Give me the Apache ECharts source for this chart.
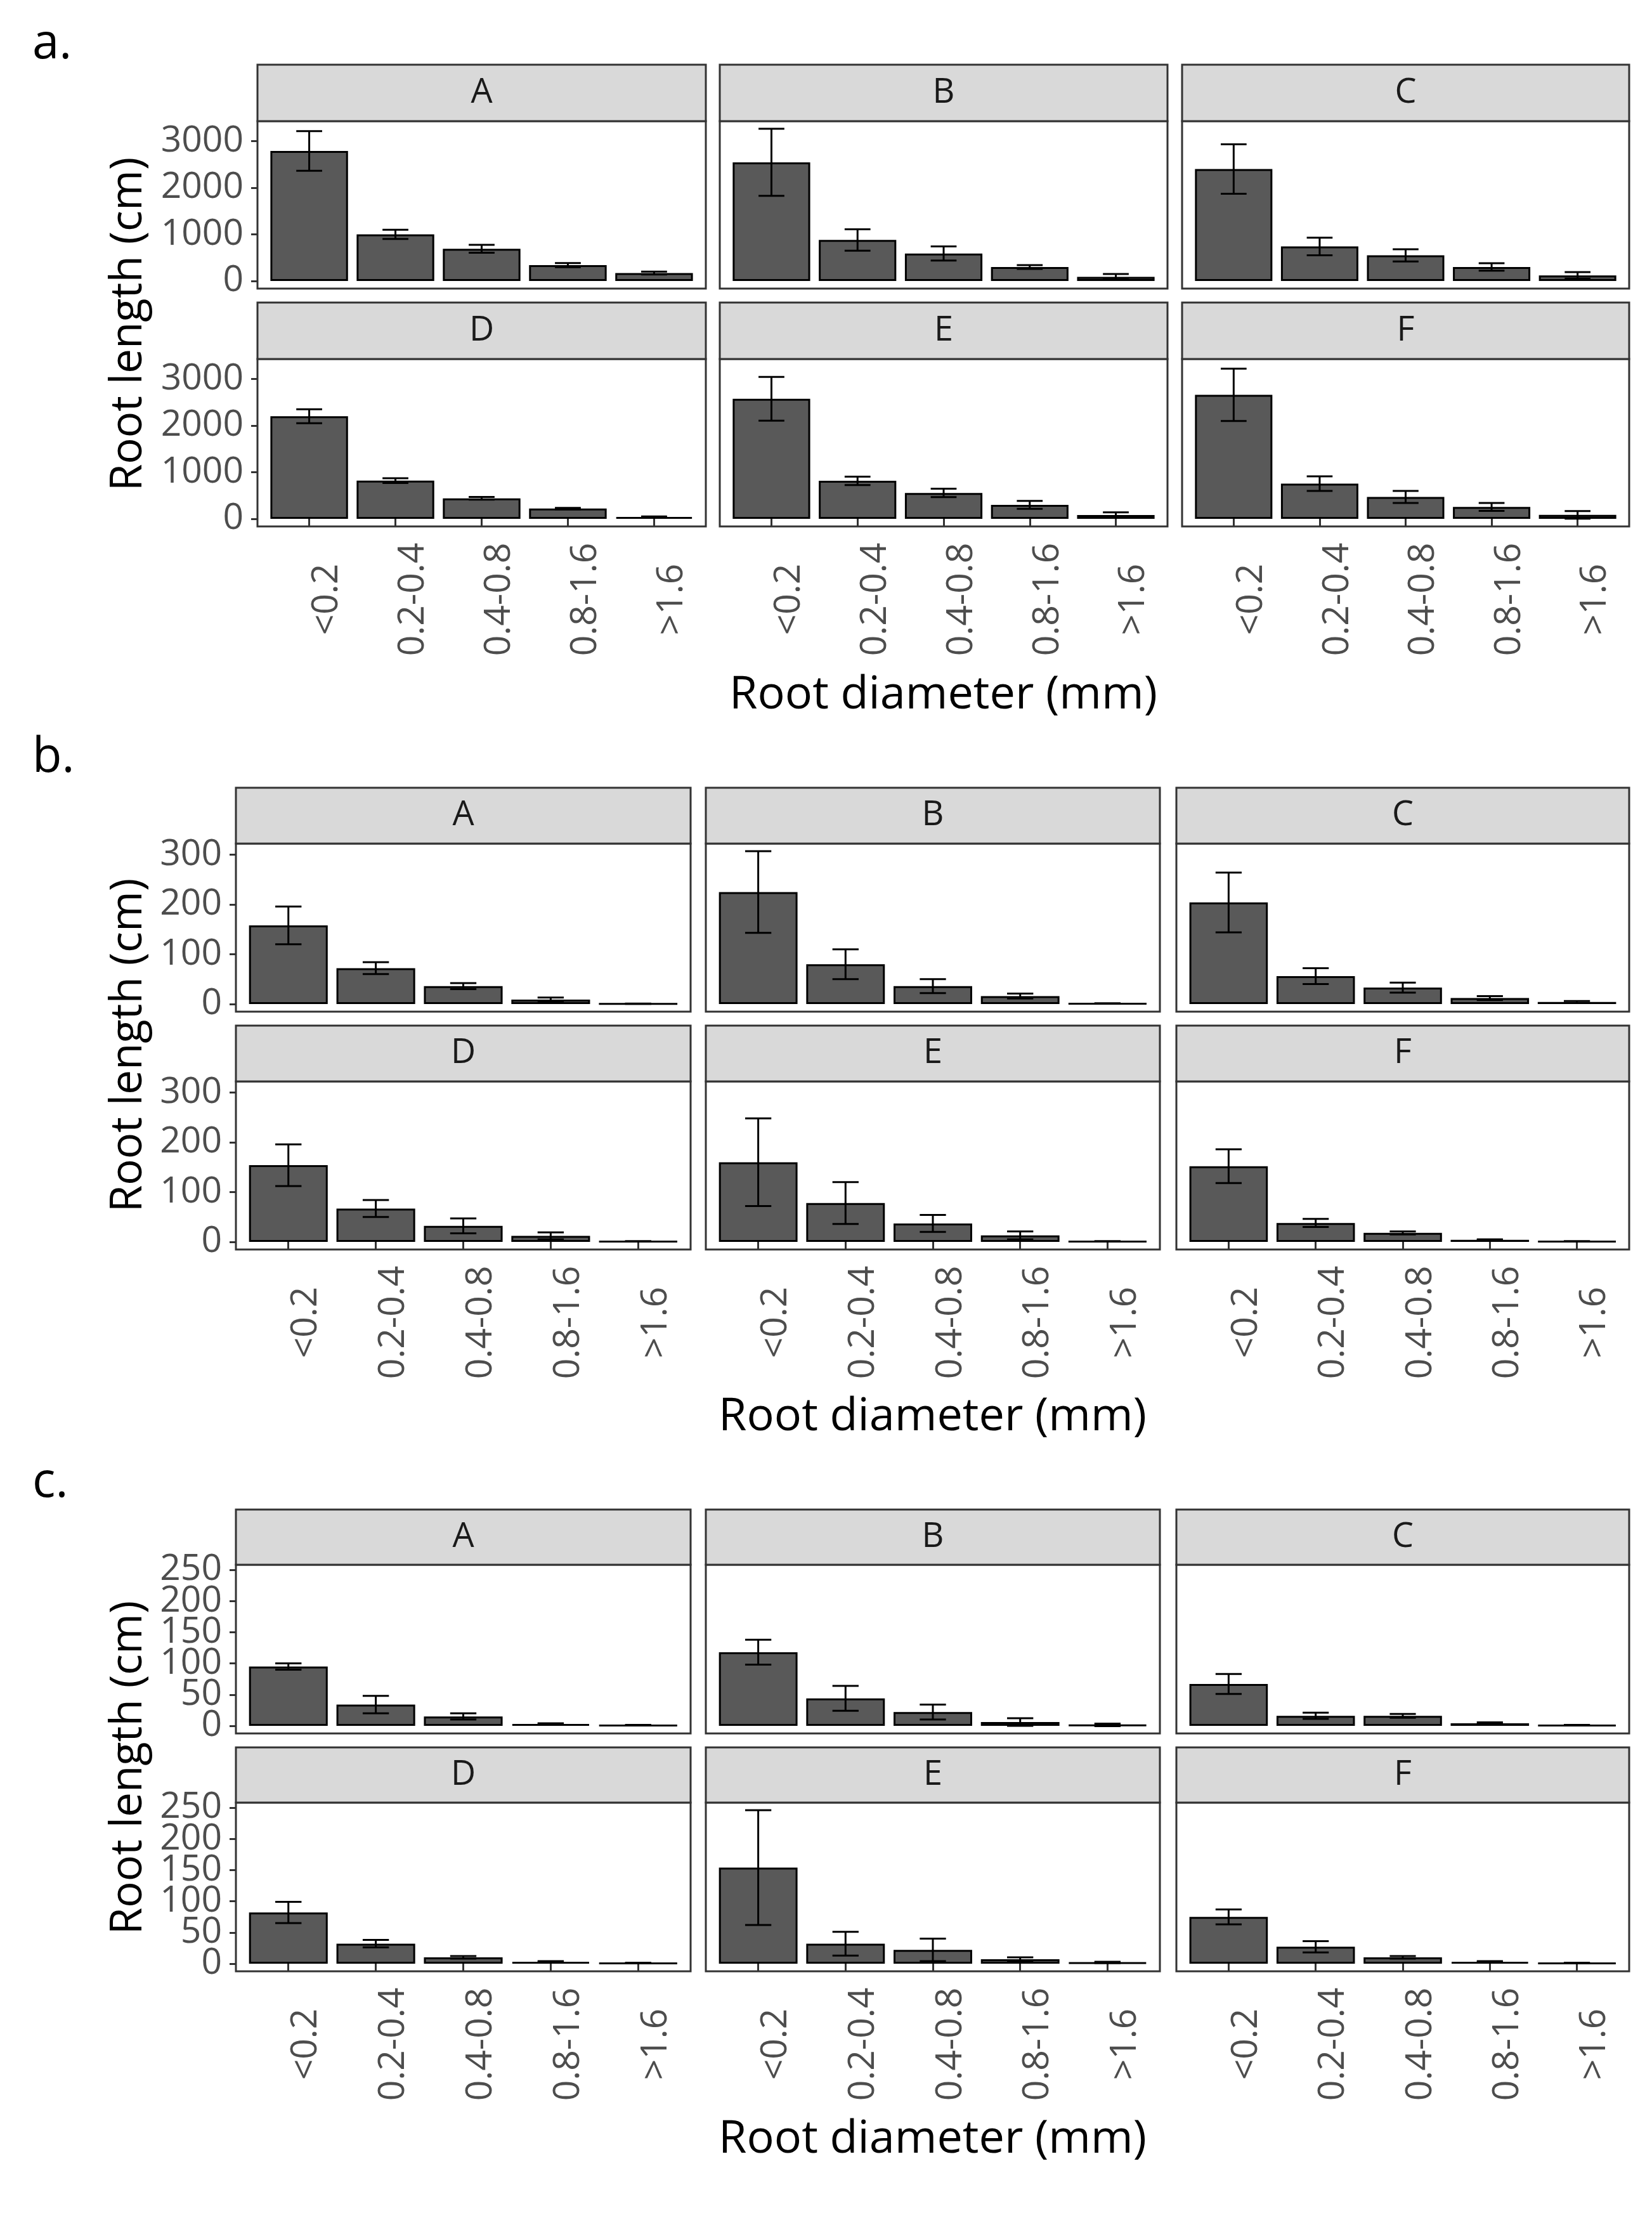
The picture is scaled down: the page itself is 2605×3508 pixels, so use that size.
<!DOCTYPE html>
<html><head><meta charset="utf-8">
<script src="https://cdn.jsdelivr.net/npm/echarts@6/dist/echarts.min.js"></script>
<style>html,body{margin:0;padding:0;background:#fff}#c{width:2605px;height:3508px}</style>
</head><body><div id="c"></div>
<script>
// ---------- DATA ----------
const categories = ['<0.2', '0.2-0.4', '0.4-0.8', '0.8-1.6', '>1.6'];
const facets = ['A', 'B', 'C', 'D', 'E', 'F'];

// Panel a: mean root length (cm) per facet, and error (+/-)
const aMeans = [
  [2790, 1000, 690, 340, 170],
  [2545, 880, 590, 300, 90],
  [2400, 740, 550, 300, 120],
  [2200, 820, 440, 220, 40],
  [2575, 815, 555, 300, 80],
  [2660, 755, 470, 255, 85]
];
const aErrs = [
  [425, 100, 85, 45, 30],
  [720, 230, 150, 40, 60],
  [530, 190, 130, 80, 70],
  [150, 50, 30, 15, 10],
  [470, 90, 90, 85, 60],
  [560, 155, 130, 85, 80]
];
const aTicks = [0, 1000, 2000, 3000];

// Panel b
const bMeans = [
  [158, 72, 36, 9, 0.5],
  [225, 80, 36, 16, 1],
  [204, 56, 33, 12, 4],
  [154, 67, 32, 12, 1],
  [160, 78, 37, 13, 1],
  [152, 38, 18, 4, 1]
];
const bErrs = [
  [38, 12, 6, 4, 0.3],
  [82, 30, 14, 5, 0.5],
  [60, 16, 10, 4, 2],
  [42, 17, 15, 7, 0.5],
  [88, 42, 17, 8, 0.5],
  [34, 8, 3, 1, 0.5]
];
const bTicks = [0, 100, 200, 300];

// Panel c
const cMeans = [
  [95, 34, 15, 3, 1],
  [118, 44, 22, 6, 1.5],
  [67, 16, 16, 4, 1],
  [82, 32, 10, 3, 1],
  [154, 32, 22, 7, 2],
  [75, 27, 10, 3, 1]
];
const cErrs = [
  [5, 14, 5, 1, 0.5],
  [20, 20, 12, 6, 2],
  [16, 5, 3, 1.5, 0.5],
  [17, 6, 2, 1, 0.5],
  [92, 19, 18, 3, 1],
  [12, 9, 2, 1, 0.5]
];
const cTicks = [0, 50, 100, 150, 200, 250];

const xTitle = 'Root diameter (mm)';
const yTitle = 'Root length (cm)';

// ---------- LAYOUT ----------
const FONT = '"Open Sans", "Noto Sans", sans-serif';
const colsA = [[406, 1113], [1135, 1841], [1864, 2569]];
const colsBC = [[372, 1089], [1113, 1829], [1855, 2569]];
const sections = [
  { letter: 'a.', means: aMeans, errs: aErrs, ticks: aTicks, cols: colsA, top: 102, stripH: 89, panelH: 264, gap: 22, letterY: 70, xTitleY: 1096, yTitleY: 511 },
  { letter: 'b.', means: bMeans, errs: bErrs, ticks: bTicks, cols: colsBC, top: 1242, stripH: 88, panelH: 265, gap: 22, letterY: 1195, xTitleY: 2234, yTitleY: 1648 },
  { letter: 'c.', means: cMeans, errs: cErrs, ticks: cTicks, cols: colsBC, top: 2380, stripH: 87, panelH: 266, gap: 22, letterY: 2338, xTitleY: 3373, yTitleY: 2787 }
];

const grids = [], xAxes = [], yAxes = [], extraY = [], series = [], graphics = [];
const catPos = categories.map((_, j) => j + 1);

function yLabel(show, values) {
  return {
    show: show, customValues: values, margin: 22, color: '#4D4D4D', fontSize: 57, fontFamily: FONT,
    interval: 0, showMinLabel: true, showMaxLabel: true, hideOverlap: false,
    formatter: v => String(v)
  };
}

sections.forEach(s => {
  let M = 0;
  s.means.forEach((row, i) => row.forEach((v, j) => { M = Math.max(M, v + s.errs[i][j]); }));
  const yMin = -0.05 * M, yMax = 1.05 * M;
  const evenTicks = s.ticks.filter((_, j) => j % 2 === 0);
  const oddTicks = s.ticks.filter((_, j) => j % 2 === 1);
  facets.forEach((f, i) => {
    const r = Math.floor(i / 3), c = i % 3;
    const left = s.cols[c][0], w = s.cols[c][1] - s.cols[c][0];
    const stripTop = s.top + r * (s.stripH + s.panelH + s.gap);
    const gTop = stripTop + s.stripH;
    const k = grids.length;
    grids.push({ left: left, top: gTop, width: w, height: s.panelH, show: true, borderColor: '#333333', borderWidth: 3, backgroundColor: '#ffffff' });
    xAxes.push({
      gridIndex: k, type: 'value', min: 0.4, max: 5.6,
      axisLine: { show: false }, splitLine: { show: false },
      axisTick: { show: r === 1, customValues: catPos, length: 12, lineStyle: { color: '#333333', width: 3 } },
      axisLabel: {
        show: r === 1, customValues: catPos, rotate: 90, align: 'center', verticalAlign: 'top', margin: 115,
        interval: 0, showMinLabel: true, showMaxLabel: true, hideOverlap: false,
        formatter: v => categories[Math.round(v) - 1], color: '#4D4D4D', fontSize: 57, fontFamily: FONT
      }
    });
    yAxes.push({
      gridIndex: k, type: 'value', position: 'left', min: yMin, max: yMax,
      axisLine: { show: false }, splitLine: { show: false },
      axisTick: { show: c === 0, customValues: s.ticks, length: 10, lineStyle: { color: '#333333', width: 3 } },
      axisLabel: yLabel(c === 0, evenTicks)
    });
    if (c === 0 && oddTicks.length) {
      extraY.push({
        gridIndex: k, type: 'value', position: 'left', min: yMin, max: yMax,
        axisLine: { show: false }, splitLine: { show: false }, axisTick: { show: false },
        axisLabel: yLabel(true, oddTicks)
      });
    }
    const means = s.means[i], errs = s.errs[i];
    series.push({
      type: 'bar', xAxisIndex: k, yAxisIndex: k, silent: true,
      barWidth: 0.9 * w / 5.2,
      data: means.map((v, j) => [catPos[j], v]),
      itemStyle: { color: '#595959', borderColor: '#000000', borderWidth: 3 }
    });
    series.push({
      type: 'custom', xAxisIndex: k, yAxisIndex: k, silent: true, z: 5,
      data: means.map((v, j) => [catPos[j], v - errs[j], v + errs[j]]),
      encode: { x: 0, y: [1, 2] },
      renderItem: (params, api) => {
        const x = api.value(0);
        const lo = api.coord([x, api.value(1)]);
        const hi = api.coord([x, api.value(2)]);
        const hw = api.size([0.3, 0])[0] / 2;
        const st = { stroke: '#000000', lineWidth: 3 };
        return {
          type: 'group', children: [
            { type: 'line', shape: { x1: lo[0], y1: lo[1], x2: hi[0], y2: hi[1] }, style: st },
            { type: 'line', shape: { x1: hi[0] - hw, y1: hi[1], x2: hi[0] + hw, y2: hi[1] }, style: st },
            { type: 'line', shape: { x1: lo[0] - hw, y1: lo[1], x2: lo[0] + hw, y2: lo[1] }, style: st }
          ]
        };
      }
    });
    graphics.push({
      type: 'rect', shape: { x: left, y: stripTop, width: w, height: s.stripH },
      style: { fill: '#D9D9D9', stroke: '#333333', lineWidth: 3 }, z: 10
    });
    graphics.push({
      type: 'text', x: left + w / 2, y: stripTop + s.stripH / 2, z: 11,
      style: { text: f, fill: '#1A1A1A', font: '54px ' + FONT, align: 'center', verticalAlign: 'middle', textAlign: 'center', textVerticalAlign: 'middle' }
    });
  });
  const cx = (s.cols[0][0] + s.cols[2][1]) / 2;
  graphics.push({
    type: 'text', x: 51, y: s.letterY, z: 11,
    style: { text: s.letter, fill: '#000000', font: '76px ' + FONT, align: 'left', verticalAlign: 'middle', textAlign: 'left', textVerticalAlign: 'middle' }
  });
  graphics.push({
    type: 'text', x: cx, y: s.xTitleY, z: 11,
    style: { text: xTitle, fill: '#000000', font: '72px ' + FONT, align: 'center', verticalAlign: 'middle', textAlign: 'center', textVerticalAlign: 'middle' }
  });
  graphics.push({
    type: 'text', x: 203, y: s.yTitleY, rotation: Math.PI / 2, z: 11,
    style: { text: yTitle, fill: '#000000', font: '69px ' + FONT, align: 'center', verticalAlign: 'middle', textAlign: 'center', textVerticalAlign: 'middle' }
  });
});

const chart = echarts.init(document.getElementById('c'), null, { renderer: 'canvas', width: 2605, height: 3508 });
chart.setOption({
  animation: false,
  backgroundColor: '#ffffff',
  grid: grids, xAxis: xAxes, yAxis: yAxes.concat(extraY), series: series,
  graphic: { elements: graphics }
});
</script>
</body></html>
